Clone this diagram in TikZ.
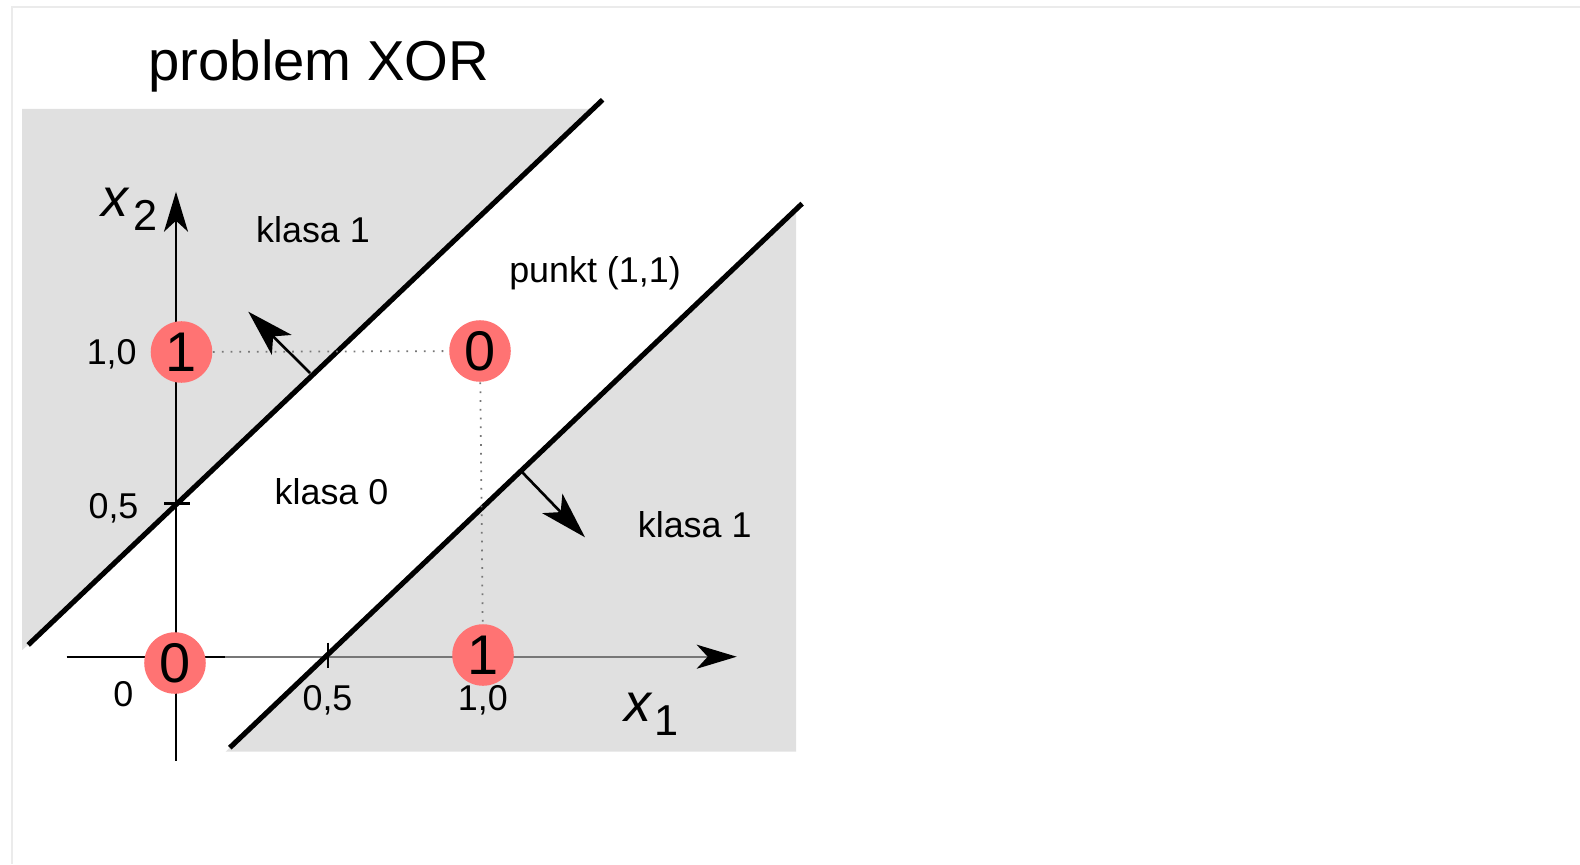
\documentclass[tikz,border=0pt]{standalone}
\usepackage{fontspec}
\setmainfont{Liberation Sans}
\usetikzlibrary{arrows.meta}
\definecolor{bggray}{HTML}{E0E0E0}
\definecolor{dotred}{RGB}{255,115,115}
\definecolor{framegray}{HTML}{EBEBEB}
\definecolor{axisgray}{HTML}{777777}
\begin{document}
\begin{tikzpicture}[x=0.01cm,y=-0.01cm,
  lbl/.style={font=\fontsize{10.2}{12}\selectfont, inner sep=0pt, anchor=base},
  ttl/.style={font=\fontsize{16}{19}\selectfont, inner sep=0pt, anchor=base},
  pt/.style={circle, fill=dotred, minimum size=0.615cm, inner sep=0pt, font=\fontsize{15.9}{18}\selectfont},
  bound/.style={line width=1.45pt, line cap=butt},
  axisline/.style={line width=0.65pt},
  guide/.style={dotted, axisgray, line width=0.5pt},
  axtip/.style={-{Stealth[length=0.40cm, width=0.24cm, inset=0.11cm, color=black]}},
  nrm/.style={line width=0.75pt, -{Stealth[length=0.47cm, width=0.28cm, inset=0.12cm]}},
  varlbl/.style={inner sep=0pt, anchor=base west}
]
\useasboundingbox (0,0) rectangle (1580,864);
% faint frame
\draw[framegray, line width=0.4pt] (12,864) -- (12,7) -- (1580,7);
% shaded class-1 regions
\fill[bggray] (22.2,108.8) -- (593.1,108.8) -- (28.2,644.9) -- (22.2,650) -- cycle;
\fill[bggray] (796.1,209.1) -- (796.1,751.7) -- (225.6,751.7) -- cycle;
% axes
\coordinate (xl) at (66.5,656.7);
\coordinate (xm) at (225,656.7);
\coordinate (xt) at (736.7,656.7);
\coordinate (yb) at (176,760.8);
\coordinate (yt) at (176,191.7);
\draw[axisline] (xl) -- (xm);
\draw[axisline, axisgray, axtip] (xm) -- (xt);
\draw[axisline, axtip] (yb) -- (yt);
% ticks
\coordinate (tyl) at (164.3,503.5);
\coordinate (tyr) at (189.5,503.5);
\coordinate (txt) at (327.7,642.7);
\coordinate (txb) at (327.7,668.3);
\draw[axisline] (tyl) -- (tyr);
\draw[axisline] (txt) -- (txb);
% decision boundaries
\coordinate (a1) at (28.2,644.9);
\coordinate (a2) at (602.6,99.8);
\coordinate (b1) at (229.8,747.7);
\coordinate (b2) at (802.1,203.6);
\draw[bound] (a1) -- (a2);
\draw[bound] (b1) -- (b2);
% normal arrows
\coordinate (n1s) at (310,373);
\coordinate (n1t) at (248.3,311.7);
\coordinate (n2s) at (521.7,471.7);
\coordinate (n2t) at (585,537.3);
\draw[nrm] (n1s) -- (n1t);
\draw[nrm] (n2s) -- (n2t);
% points
\node[pt] (p01) at (181.5,352) {1};
\node[pt] (p11) at (480,351) {0};
\node[pt] (p00) at (175,663) {0};
\node[pt] (p10) at (483,655) {1};
\draw[guide] (p01) -- (p11);
\draw[guide] (p11) -- (p10);
% texts
\node[ttl] (title) at (319,80.6) {problem XOR};
\node[lbl] (k1a) at (313,242.9) {klasa 1};
\node[lbl] (pk) at (595,282) {punkt (1,1)};
\node[lbl] (k0) at (331.5,504) {klasa 0};
\node[lbl] (k1b) at (694.7,537.3) {klasa 1};
\node[lbl] (ly1) at (111.7,364.3) {1,0};
\node[lbl] (ly5) at (113.5,518) {0,5};
\node[lbl] (lx0) at (123.3,706) {0};
\node[lbl] (lx5) at (327.5,710) {0,5};
\node[lbl] (lx1) at (482.8,710) {1,0};
\node[varlbl] (x2) at (101,216.7) {{\fontsize{15.3}{17}\selectfont\itshape x}\hspace{0.05cm}{\fontsize{12.3}{14}\selectfont\raisebox{-0.133cm}{2}}};
\node[varlbl] (x1) at (624,721.7) {{\fontsize{15.3}{17}\selectfont\itshape x}\hspace{0.03cm}{\fontsize{12.3}{14}\selectfont\raisebox{-0.133cm}{1}}};
\end{tikzpicture}
\end{document}
